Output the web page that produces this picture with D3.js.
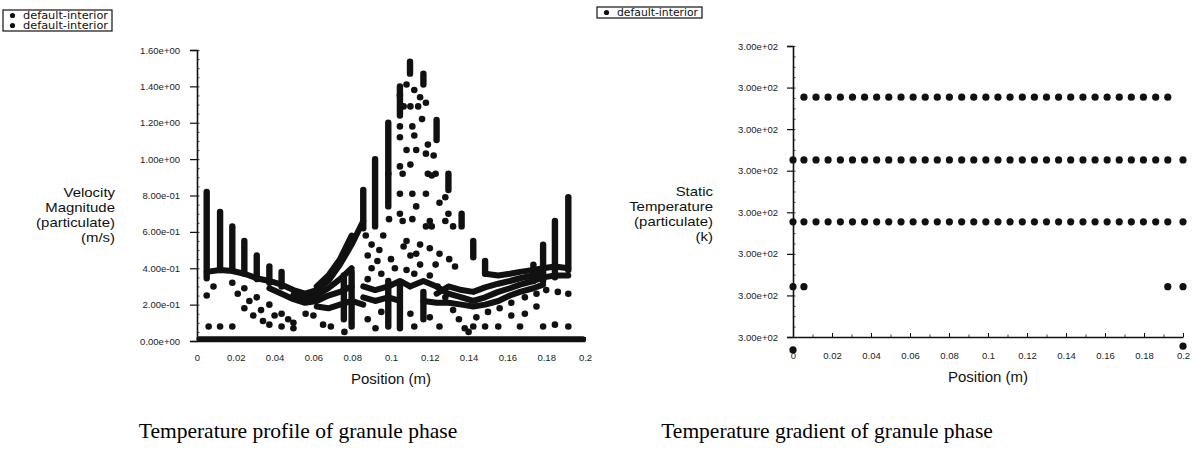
<!DOCTYPE html>
<html><head><meta charset="utf-8">
<script src="https://cdn.jsdelivr.net/npm/d3@7"></script>
<style>body{margin:0;background:#fff}svg{display:block}</style>
</head><body>
<svg id="c" width="1192" height="457"></svg>
<script>
// ---------- shared axis data ----------
const posTicks = [0,0.02,0.04,0.06,0.08,0.1,0.12,0.14,0.16,0.18,0.2];
const posTickLabels = ["0","0.02","0.04","0.06","0.08","0.1","0.12","0.14","0.16","0.18","0.2"];
const xTitle = "Position (m)";

// ---------- left chart: velocity magnitude ----------
const velTicks = [0,0.2,0.4,0.6,0.8,1.0,1.2,1.4,1.6];
const velTickLabels = ["0.00e+00","2.00e-01","4.00e-01","6.00e-01","8.00e-01","1.00e+00","1.20e+00","1.40e+00","1.60e+00"];
const velTitle = ["Velocity","Magnitude","(particulate)","(m/s)"];
const legendLeft = ["default-interior","default-interior"];
// dense stacks of particles in one cell column: [position, low, high]
const velRuns = [
 [0.0050,0.345,0.82],[0.0119,0.39,0.71],[0.0182,0.39,0.63],[0.0244,0.37,0.55],[0.0308,0.34,0.47],[0.0373,0.32,0.41],[0.0436,0.30,0.38],
 [0.0757,0.12,0.36],[0.0797,0.08,0.38],[0.0857,0.62,0.83],[0.0918,0.63,1.00],[0.0986,0.74,1.20],[0.1046,1.24,1.40],
 [0.1098,1.47,1.535],[0.1167,1.41,1.47],[0.1235,1.105,1.215],[0.1296,0.83,0.92],[0.1364,0.63,0.70],[0.1424,0.46,0.55],[0.1485,0.37,0.44],
 [0.0986,0.08,0.33],[0.1046,0.07,0.30],[0.1167,0.12,0.27],
 [0.1734,0.33,0.42],[0.1784,0.33,0.53],[0.1845,0.35,0.66],[0.1914,0.39,0.79]
];
// dense chains of particles: [[position, value], ...]
const velBands = [
 [[0.0050,0.38],[0.0119,0.39],[0.0182,0.385],[0.0244,0.37],[0.0308,0.345],[0.0373,0.33],[0.0436,0.31],[0.0497,0.28],[0.0557,0.26],[0.0617,0.28],[0.0677,0.33],[0.0737,0.42],[0.0797,0.53],[0.0857,0.66]],
 [[0.0373,0.29],[0.0436,0.26],[0.0497,0.23],[0.0557,0.21],[0.0617,0.22],[0.0677,0.25],[0.0737,0.27],[0.0797,0.30]],
 [[0.0497,0.255],[0.0557,0.235],[0.0617,0.25],[0.0677,0.29],[0.0737,0.34],[0.0797,0.40]],
 [[0.0617,0.30],[0.0677,0.36],[0.0737,0.45],[0.0797,0.58]],
 [[0.0617,0.19],[0.0677,0.18],[0.0737,0.20],[0.0797,0.22],[0.0857,0.20]],
 [[0.0857,0.30],[0.0918,0.28],[0.0986,0.30],[0.1046,0.33],[0.1098,0.30]],
 [[0.0857,0.24],[0.0918,0.22],[0.0986,0.24],[0.1046,0.22]],
 [[0.1098,0.30],[0.1167,0.33],[0.1235,0.30],[0.1296,0.26],[0.1364,0.24],[0.1424,0.22],[0.1485,0.24],[0.1553,0.27],[0.1613,0.29],[0.1665,0.31],[0.1734,0.33],[0.1784,0.35],[0.1845,0.36],[0.1914,0.36]],
 [[0.1235,0.26],[0.1296,0.30],[0.1364,0.28],[0.1424,0.27],[0.1485,0.295],[0.1553,0.315],[0.1613,0.33],[0.1665,0.345],[0.1734,0.36],[0.1784,0.37]],
 [[0.1167,0.22],[0.1235,0.21],[0.1296,0.21],[0.1364,0.20],[0.1424,0.19],[0.1485,0.20],[0.1553,0.22],[0.1613,0.25],[0.1665,0.27],[0.1734,0.29],[0.1784,0.31]],
 [[0.1485,0.37],[0.1553,0.36],[0.1613,0.37],[0.1665,0.38],[0.1734,0.39],[0.1784,0.40],[0.1845,0.41],[0.1914,0.40]],
 [[0.0010,0.012],[0.1990,0.012]]
];
// isolated particles: [position, value]
const velDots = [
 [0.0050,0.25],[0.0085,0.30],[0.0182,0.32],[0.0210,0.26],[0.0244,0.29],[0.0270,0.22],[0.0308,0.24],[0.0330,0.17],[0.0373,0.20],[0.0400,0.14],[0.0436,0.15],[0.0470,0.12],[0.0497,0.10],
 [0.0060,0.08],[0.0119,0.08],[0.0182,0.08],[0.0373,0.09],[0.0436,0.08],[0.0497,0.07],
 [0.0244,0.18],[0.0290,0.14],[0.0340,0.11],[0.0560,0.15],[0.0600,0.14],[0.0650,0.09],[0.0690,0.08],
 [0.1046,1.35],[0.1080,1.41],[0.1120,1.38],[0.1150,1.34],[0.1180,1.31],[0.1065,1.29],[0.1100,1.29],[0.1140,1.29],
 [0.1046,1.18],[0.1110,1.18],[0.1160,1.22],[0.1046,1.12],[0.1120,1.13],[0.1190,1.08],[0.1220,1.02],[0.1080,1.05],[0.1130,1.05],[0.1180,1.03],
 [0.0986,0.92],[0.1046,0.96],[0.1060,0.92],[0.1100,0.97],[0.1190,0.92],[0.1210,0.91],[0.1230,0.92],
 [0.1046,0.81],[0.1110,0.81],[0.1180,0.81],[0.1280,0.79],[0.1250,0.76],[0.1296,0.70],[0.1130,0.74],[0.1046,0.70],[0.0990,0.67],[0.1060,0.66],[0.1110,0.67],[0.1200,0.66],[0.1280,0.66],[0.1320,0.63],[0.1180,0.63],[0.1210,0.63],
 [0.1080,0.55],[0.1150,0.53],[0.1200,0.51],[0.1130,0.48],[0.1250,0.48],[0.1300,0.45],[0.1330,0.41],[0.1230,0.42],[0.1080,0.39],[0.1120,0.37],
 [0.1065,0.52],[0.1100,0.47],[0.1150,0.42],[0.1200,0.36],[0.1240,0.30],[0.1280,0.24],[0.1320,0.17],[0.1350,0.12],[0.1380,0.07],[0.1400,0.05],
 [0.1424,0.08],[0.1485,0.08],[0.1553,0.08],[0.1665,0.08],[0.1784,0.08],[0.1845,0.09],[0.1914,0.08],
 [0.1440,0.13],[0.1500,0.16],[0.1560,0.18],[0.1620,0.21],[0.1690,0.24],[0.1750,0.26],[0.1800,0.28],[0.1860,0.27],[0.1914,0.26],[0.1690,0.15],[0.1750,0.19],[0.1620,0.14],
 [0.0760,0.05],[0.0920,0.07],[0.1120,0.08],[0.1250,0.08],[0.0880,0.12],[0.0950,0.16],[0.1100,0.15],[0.1200,0.13],
 [0.0870,0.58],[0.0900,0.53],[0.0880,0.47],[0.0930,0.44],[0.0900,0.40],[0.0950,0.37],[0.0880,0.34],[0.0960,0.58],[0.0940,0.50],
 [0.1020,0.40],[0.1000,0.45]
];

// ---------- right chart: static temperature ----------
const tempTicks = [299.999965,299.999975,299.999985,299.999995,300.000005,300.000015,300.000025,300.000035];
const tempTickLabels = ["3.00e+02","3.00e+02","3.00e+02","3.00e+02","3.00e+02","3.00e+02","3.00e+02","3.00e+02"];
const tempTitle = ["Static","Temperature","(particulate)","(k)"];
const legendRight = ["default-interior"];
const cellCenters = [0.0056,0.0118,0.0180,0.0243,0.0305,0.0367,0.0429,0.0491,0.0554,0.0616,0.0678,0.0740,0.0802,0.0865,0.0927,0.0989,0.1051,0.1113,0.1176,0.1238,0.1300,0.1362,0.1424,0.1487,0.1549,0.1611,0.1673,0.1735,0.1797,0.1860,0.1922];
const wallFaces = [0, 0.2];
const tempRowA = 300.0000227;   // interior cells only
const tempRowB = 300.0000076;   // walls + interior
const tempRowC = 299.9999927;   // walls + interior
const tempRowD = 299.9999771;   // near-wall cells
const tempRowDPositions = [0, 0.0056, 0.1922, 0.2];
const tempOutliers = [[0, 299.9999619],[0.2, 299.9999628]];

const captions = ["Temperature profile of granule phase","Temperature gradient of granule phase"];

// ---------- drawing ----------
const svg = d3.select("#c");
const SANS = "'Liberation Sans', Arial, sans-serif";
const INK = "#111";

function drawAxes(g, x, y, yTickVals, yLabels, opts){
  const yd = y.domain(), ystep = (yTickVals[1]-yTickVals[0])/4;
  const yMinor = d3.range(yd[0], yd[1]+ystep/2, ystep);
  g.append("g").attr("transform",`translate(${x(0)},0)`)
    .call(d3.axisRight(y).tickValues(yMinor).tickSize(2.5).tickFormat(""))
    .call(a=>a.select(".domain").remove())
    .selectAll("line").attr("stroke",INK).attr("stroke-width",0.8);
  const ya = g.append("g").attr("transform",`translate(${x(0)},0)`)
    .call(d3.axisLeft(y).tickValues(yTickVals).tickSize(opts.yTick).tickPadding(opts.yPad)
      .tickFormat((d,i)=>yLabels[i]));
  ya.select(".domain").attr("stroke",INK).attr("stroke-width",1.6);
  ya.selectAll("line").attr("stroke",INK).attr("stroke-width",1.2);
  ya.selectAll("text").attr("font-family",SANS).attr("font-size",9.5).attr("fill","#222");
  const xMinor = d3.range(0, 0.2001, 0.01);
  g.append("g").attr("transform",`translate(0,${y(yd[0])})`)
    .call(d3.axisTop(x).tickValues(xMinor).tickSize(2.5).tickFormat(""))
    .call(a=>a.select(".domain").remove())
    .selectAll("line").attr("stroke",INK).attr("stroke-width",0.8);
  const xa = g.append("g").attr("transform",`translate(0,${y(yd[0])})`)
    .call(d3.axisBottom(x).tickValues(posTicks).tickSize(0).tickPadding(opts.xPad)
      .tickFormat((d,i)=>posTickLabels[i]));
  xa.select(".domain").attr("stroke",INK).attr("stroke-width",1.6);
  xa.selectAll("text").attr("font-family",SANS).attr("font-size",9.5).attr("fill","#222");
  g.append("g").attr("transform",`translate(0,${y(yd[0])})`)
    .call(d3.axisTop(x).tickValues(posTicks).tickSize(4).tickFormat(""))
    .call(a=>a.select(".domain").remove())
    .selectAll("line").attr("stroke",INK).attr("stroke-width",1);
  g.append("text").attr("x",(x.range()[0]+x.range()[1])/2).attr("y",opts.xTitleY)
    .attr("text-anchor","middle").attr("font-family",SANS).attr("font-size",15).attr("fill","#111")
    .text(xTitle);
  const tg = g.append("g").attr("transform",`translate(${opts.yTitleX},0) scale(1.15,1)`);
  opts.yTitle.forEach((s,i)=>tg.append("text").attr("x",0).attr("y",opts.yTitleY+i*15)
    .attr("text-anchor","end").attr("font-family",SANS).attr("font-size",13).attr("fill","#111").text(s));
}

function legend(g, x0, y0, w, labels){
  const rowH = 10;
  g.append("rect").attr("x",x0).attr("y",y0).attr("width",w).attr("height",labels.length*rowH+1)
    .attr("fill","#fff").attr("stroke",INK).attr("stroke-width",1.2);
  labels.forEach((s,i)=>{
    const cy = y0 + rowH/2 + 0.5 + i*rowH;
    g.append("circle").attr("cx",x0+9.5).attr("cy",cy).attr("r",2.6).attr("fill",INK);
    g.append("text").attr("x",x0+20).attr("y",cy+3.5).attr("font-family","'DejaVu Sans', sans-serif")
      .attr("font-size",10.5).attr("textLength",w-24).attr("lengthAdjust","spacingAndGlyphs")
      .attr("fill",INK).text(s);
  });
}

// ----- left -----
const xL = d3.scaleLinear().domain([0,0.2]).range([197,585]);
const yL = d3.scaleLinear().domain([0,1.6]).range([341,50]);
const gL = svg.append("g");
legend(gL, 3, 10, 109, legendLeft);

const marksL = gL.append("g");
marksL.selectAll("line.run").data(velRuns).join("line").attr("class","run")
  .attr("x1",d=>xL(d[0])).attr("x2",d=>xL(d[0])).attr("y1",d=>yL(d[1])).attr("y2",d=>yL(d[2]))
  .attr("stroke",INK).attr("stroke-width",6.4).attr("stroke-linecap","round");
const lineL = d3.line().x(d=>xL(d[0])).y(d=>yL(d[1]));
marksL.selectAll("path.band").data(velBands).join("path").attr("class","band")
  .attr("d",lineL).attr("fill","none").attr("stroke",INK)
  .attr("stroke-width",(d,i)=>i===velBands.length-1?5:6)
  .attr("stroke-linecap","round").attr("stroke-linejoin","round");
marksL.selectAll("circle").data(velDots).join("circle")
  .attr("cx",d=>xL(d[0])).attr("cy",d=>yL(d[1])).attr("r",3.3).attr("fill",INK);

drawAxes(gL, xL, yL, velTicks, velTickLabels,
  {yTick:7, yPad:10, xPad:13, xTitleY:384, yTitle:velTitle, yTitleX:115, yTitleY:197});

// ----- right -----
const xR = d3.scaleLinear().domain([0,0.2]).range([793,1183]);
const yR = d3.scaleLinear().domain([tempTicks[0], tempTicks[tempTicks.length-1]]).range([337,46]);
const gR = svg.append("g");
legend(gR, 597, 7, 105, legendRight);

const tempPts = [];
cellCenters.forEach(p=>tempPts.push([p,tempRowA]));
wallFaces.concat(cellCenters).forEach(p=>{tempPts.push([p,tempRowB]); tempPts.push([p,tempRowC]);});
tempRowDPositions.forEach(p=>tempPts.push([p,tempRowD]));
tempOutliers.forEach(d=>tempPts.push(d));
gR.append("g").selectAll("circle").data(tempPts).join("circle")
  .attr("cx",d=>xR(d[0])).attr("cy",d=>yR(d[1])).attr("r",3.6).attr("fill",INK);

drawAxes(gR, xR, yR, tempTicks, tempTickLabels,
  {yTick:6, yPad:9, xPad:15, xTitleY:382, yTitle:tempTitle, yTitleX:713, yTitleY:196});

// ----- captions -----
const SERIF = "'Liberation Serif', 'Times New Roman', serif";
svg.append("text").attr("x",298).attr("y",438).attr("text-anchor","middle")
  .attr("font-family",SERIF).attr("font-size",21.5).attr("fill","#000").text(captions[0]);
svg.append("text").attr("x",827).attr("y",438).attr("text-anchor","middle")
  .attr("font-family",SERIF).attr("font-size",21.5).attr("fill","#000").text(captions[1]);
</script>
</body></html>
